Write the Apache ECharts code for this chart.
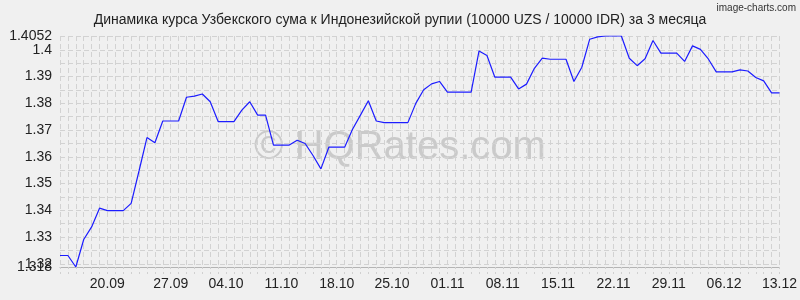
<!DOCTYPE html>
<html><head><meta charset="utf-8">
<script src="https://cdn.jsdelivr.net/npm/echarts@6/dist/echarts.min.js"></script>
<style>html,body{margin:0;padding:0;background:#f0f0f0}#c{width:800px;height:300px}</style>
</head><body><div id="c"></div>
<script>
// Dates: daily from 13.09 to 13.12
const monthLengths = {9: 30, 10: 31, 11: 30, 12: 31};
const categories = [];
(function () {
  let d = 13, m = 9;
  const pad = n => (n < 10 ? '0' : '') + n;
  while (true) {
    categories.push(pad(d) + '.' + pad(m));
    if (d === 13 && m === 12) break;
    d++;
    if (d > monthLengths[m]) { d = 1; m++; }
  }
})();

const rates = [
  1.3231, 1.3231, 1.3188, 1.3291, 1.3338, 1.3408, 1.3399, 1.3399, 1.3399, 1.3426,
  1.3548, 1.3672, 1.3653, 1.3734, 1.3734, 1.3734, 1.3823, 1.3827, 1.3835, 1.3806,
  1.3732, 1.3732, 1.3732, 1.3775, 1.3806, 1.3756, 1.3756, 1.3644, 1.3644, 1.3644,
  1.3662, 1.3650, 1.3605, 1.3555, 1.3636, 1.3636, 1.3636, 1.3703, 1.3756, 1.3810,
  1.3734, 1.3728, 1.3728, 1.3728, 1.3728, 1.3800, 1.3851, 1.3873, 1.3882, 1.3842,
  1.3842, 1.3842, 1.3842, 1.3996, 1.3979, 1.3898, 1.3898, 1.3898, 1.3854, 1.3872,
  1.3931, 1.3969, 1.3965, 1.3965, 1.3965, 1.3882, 1.3935, 1.4040, 1.4049, 1.4052,
  1.4052, 1.4052, 1.3969, 1.3941, 1.3967, 1.4035, 1.3988, 1.3988, 1.3988, 1.3957,
  1.4015, 1.4002, 1.3966, 1.3918, 1.3918, 1.3918, 1.3925, 1.3921, 1.3897, 1.3884,
  1.3839, 1.3839
];

const yMin = 1.3188;
const yMax = 1.4052;
const yLabelValues = [1.32, 1.33, 1.34, 1.35, 1.36, 1.37, 1.38, 1.39, 1.40, 1.4052];
const yLabelTexts = ['1.32', '1.33', '1.34', '1.35', '1.36', '1.37', '1.38', '1.39', '1.4', '1.4052'];
const yMinLabelValues = [1.3188];
const yMinLabelTexts = ['1.318'];
const yGridValues = [1.32, 1.325, 1.33, 1.335, 1.34, 1.345, 1.35, 1.355, 1.36, 1.365,
  1.37, 1.375, 1.38, 1.385, 1.39, 1.395, 1.40, 1.4052];

const titleText = 'Динамика курса Узбекского сума к Индонезийской рупии (10000 UZS / 10000 IDR) за 3 месяца';

const chart = echarts.init(document.getElementById('c'), null, {renderer: 'canvas'});
const FONT = "'Liberation Sans', Arial, sans-serif";

function labelFormatter(values, texts) {
  return function (v) {
    const idx = values.findIndex(x => Math.abs(x - v) < 1e-7);
    return idx >= 0 ? texts[idx] : '';
  };
}

chart.setOption({
  animation: false,
  backgroundColor: '#f0f0f0',
  textStyle: {fontFamily: FONT},
  title: {
    text: titleText,
    left: 'center',
    top: 8,
    textStyle: {fontSize: 14, fontWeight: 'normal', color: '#222', fontFamily: FONT}
  },
  graphic: [
    {
      type: 'text', right: 4, top: 3, z: 10,
      style: {text: 'image-charts.com', fontSize: 10, fill: '#333', fontFamily: FONT}
    },
    {
      type: 'text', x: 400, y: 148, z: -1, silent: true,
      style: {text: '© HQRates.com', fontSize: 40, fill: '#cacaca', fontFamily: FONT,
        align: 'center', verticalAlign: 'middle'}
    }
  ],
  grid: {left: 60, right: 20, top: 36, bottom: 33, containLabel: false},
  xAxis: {
    type: 'category',
    boundaryGap: false,
    data: categories,
    axisLine: {show: true, lineStyle: {color: '#b4b4b4', width: 1}},
    axisTick: {show: true, interval: 0, length: 7, lineStyle: {color: '#d0d0d0', type: [2, 3]}},
    splitLine: {show: true, interval: 0, lineStyle: {color: '#d2d2d2', type: [5, 3], width: 1}},
    axisLabel: {
      interval: function (i) { return i > 0 && i % 7 === 0; },
      fontSize: 14, color: '#222', margin: 10, fontFamily: FONT,
      formatter: function (v, i) { return i === 7 ? '{a|' + v + '}' : v; },
      rich: {a: {fontSize: 14, color: '#222', fontFamily: FONT, padding: [0, 16, 0, 0]}}
    }
  },
  yAxis: [
    {
      type: 'value',
      position: 'left',
      min: yMin,
      max: yMax,
      axisLine: {show: false},
      axisTick: {show: false, customValues: yGridValues},
      splitLine: {show: true, lineStyle: {color: '#d2d2d2', type: [5, 3], width: 1}},
      axisLabel: {
        customValues: yLabelValues,
        showMinLabel: true,
        showMaxLabel: true,
        fontSize: 14, color: '#222', margin: 8, fontFamily: FONT,
        formatter: labelFormatter(yLabelValues, yLabelTexts)
      }
    },
    {
      type: 'value',
      position: 'left',
      offset: 0,
      min: yMin,
      max: yMax,
      axisLine: {show: false},
      axisTick: {show: false},
      splitLine: {show: false},
      axisLabel: {
        customValues: yMinLabelValues,
        showMinLabel: true,
        fontSize: 14, color: '#222', margin: 8, fontFamily: FONT,
        formatter: labelFormatter(yMinLabelValues, yMinLabelTexts)
      }
    }
  ],
  series: [{
    type: 'line',
    yAxisIndex: 0,
    data: rates,
    symbol: 'none',
    lineStyle: {color: '#1c1cff', width: 1.2},
    z: 3
  }]
});
</script>
</body></html>
